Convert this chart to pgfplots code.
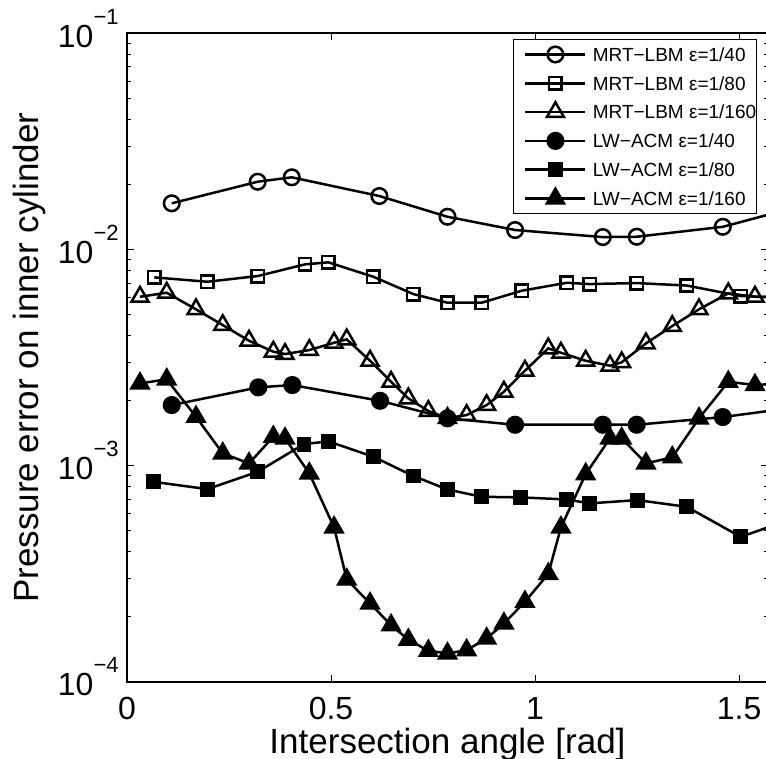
\documentclass[border=0pt]{standalone}
\usepackage{fontspec}
\setmainfont{Liberation Sans}
\usepackage{pgfplots}
\pgfplotsset{compat=1.18}
\newcommand{\tp}[1]{10\raisebox{11.5pt}{\fontsize{11}{11}\selectfont −#1}}
\pgfplotsset{ser/.style={black, line width=1.25pt, mark options={solid, line width=1.25pt}}}
\begin{document}
\begin{tikzpicture}
\begin{axis}[
  scale only axis,
  width=320.5pt, height=324.35pt,
  xmin=0, xmax=1.5708,
  ymode=log, ymin=1e-4, ymax=1e-1,
  xtick={0,0.5,1,1.5},
  xticklabels={0,0.5,1,1.5},
  ytick={1e-4,1e-3,1e-2,1e-1},
  yticklabels={\tp{4},\tp{3},\tp{2},\tp{1}},
  tick align=inside,
  major tick length=3.5pt, minor tick length=2pt,
  every tick/.style={black, line width=0.5pt},
  axis line style={black, line width=1pt},
  tick label style={font=\fontsize{16}{16}\selectfont},
  xticklabel style={anchor=north, inner sep=0pt, yshift=-7.3pt},
  yticklabel style={anchor=base east, inner sep=0pt, xshift=-4pt, yshift=-6.9pt},
  label style={font=\fontsize{17.5}{17.5}\selectfont},
  xlabel={Intersection angle [rad]},
  ylabel={Pressure error on inner cylinder},
  xlabel style={at={(axis description cs:0.5,-0.1095)}, anchor=base, inner sep=0pt},
  ylabel style={at={(axis description cs:-0.1384,0.5)}, anchor=base, inner sep=0pt},
  legend cell align=left,
  legend style={at={(axis description cs:0.9833,0.9908)}, anchor=north east,
    draw=black, line width=0.5pt, inner xsep=0.3pt, inner ysep=2.85pt,
    row sep=5.4pt, column sep=3.7pt,
    font=\fontsize{9.5}{11}\selectfont,
    nodes={inner sep=0pt, text height=7.9pt, text depth=1.1pt}},
  legend image code/.code={
    \pgfpathrectangle{\pgfpoint{0pt}{-3pt}}{\pgfpoint{35.5pt}{6pt}}\pgfusepath{}
    \begin{pgfinterruptboundingbox}
    \draw[mark repeat=2,mark phase=2,#1] plot coordinates {(5.5pt,0pt) (20.5pt,0pt) (35.5pt,0pt)};
    \end{pgfinterruptboundingbox}
  },
]
\addplot[ser, mark=o, mark size=3.9pt] coordinates {
(0.1096,0.01636) (0.3203,0.02059) (0.4037,0.02158) (0.6184,0.01768) (0.7854,0.01418)
(0.9510,0.01231) (1.1660,0.01142) (1.2490,0.01146) (1.4600,0.01274) (1.6808,0.01645)};
\addlegendentry{MRT−LBM ε=1/40}
\addplot[ser, mark=square, mark size=3.1pt] coordinates {
(0.0669,0.007437) (0.1968,0.007097) (0.3203,0.007541) (0.4363,0.008541) (0.4934,0.008726)
(0.6037,0.007485) (0.7017,0.006225) (0.7854,0.005675) (0.8690,0.005675) (0.9670,0.006448)
(1.0777,0.007020) (1.1338,0.006924) (1.2493,0.006998) (1.3718,0.006816) (1.5040,0.006094)
(1.6377,0.005960)};
\addlegendentry{MRT−LBM ε=1/80}
\addplot[ser, mark=triangle, mark size=4.9pt] coordinates {
(0.0319,0.006049) (0.0973,0.006313) (0.1691,0.005291) (0.2346,0.004475) (0.2990,0.003787)
(0.3586,0.003369) (0.3873,0.003287) (0.4468,0.003430) (0.5074,0.003706) (0.5385,0.003842)
(0.5956,0.003060) (0.6471,0.002446) (0.6895,0.002050) (0.7385,0.001791) (0.7854,0.001662)
(0.8323,0.001716) (0.8813,0.001909) (0.9237,0.002200) (0.9752,0.002751) (1.0323,0.003491)
(1.0634,0.003332) (1.1240,0.003060) (1.1835,0.002902) (1.2122,0.003009) (1.2718,0.003683)
(1.3362,0.004428) (1.4017,0.005291) (1.4735,0.006271) (1.5389,0.006049) (1.6027,0.006049)};
\addlegendentry{MRT−LBM ε=1/160}
\addplot[ser, mark=*, mark size=3.9pt] coordinates {
(0.1096,0.001909) (0.3218,0.002305) (0.4051,0.002362) (0.6201,0.001998) (0.7854,0.001657)
(0.9510,0.001548) (1.1660,0.001548) (1.2490,0.001548) (1.4600,0.001680) (1.6808,0.001909)};
\addlegendentry{LW−ACM ε=1/40}
\addplot[ser, mark=square*, mark size=3.1pt] coordinates {
(0.0645,0.000843) (0.1968,0.000780) (0.3203,0.000938) (0.4338,0.001260) (0.4934,0.001297)
(0.6037,0.001101) (0.7017,0.000897) (0.7854,0.000777) (0.8690,0.000719) (0.9650,0.000714)
(1.0770,0.000699) (1.1340,0.000670) (1.2500,0.000694) (1.3718,0.000646) (1.5040,0.000469)
(1.6377,0.000575)};
\addlegendentry{LW−ACM ε=1/80}
\addplot[ser, mark=triangle*, mark size=4.9pt] coordinates {
(0.0319,0.002405) (0.0973,0.002510) (0.1691,0.001685) (0.2346,0.001141) (0.2990,0.001026)
(0.3586,0.001362) (0.3873,0.001339) (0.4468,0.000922) (0.5074,0.000519) (0.5385,0.000298)
(0.5956,0.000231) (0.6471,0.000183) (0.6895,0.000157) (0.7385,0.0001394) (0.7854,0.0001356)
(0.8323,0.0001404) (0.8813,0.000159) (0.9237,0.0001866) (0.9752,0.000235) (1.0323,0.000316)
(1.0634,0.000519) (1.1240,0.000915) (1.1835,0.001339) (1.2122,0.001339) (1.2718,0.001026)
(1.3362,0.001094) (1.4017,0.001657) (1.4735,0.002446) (1.5389,0.002362) (1.6027,0.002405)};
\addlegendentry{LW−ACM ε=1/160}
\end{axis}
\pgfresetboundingbox
\path ([xshift=-63.5pt,yshift=-38.5pt]current axis.south west) rectangle ([xshift=319.5pt,yshift=341pt]current axis.south west);
\end{tikzpicture}
\end{document}
